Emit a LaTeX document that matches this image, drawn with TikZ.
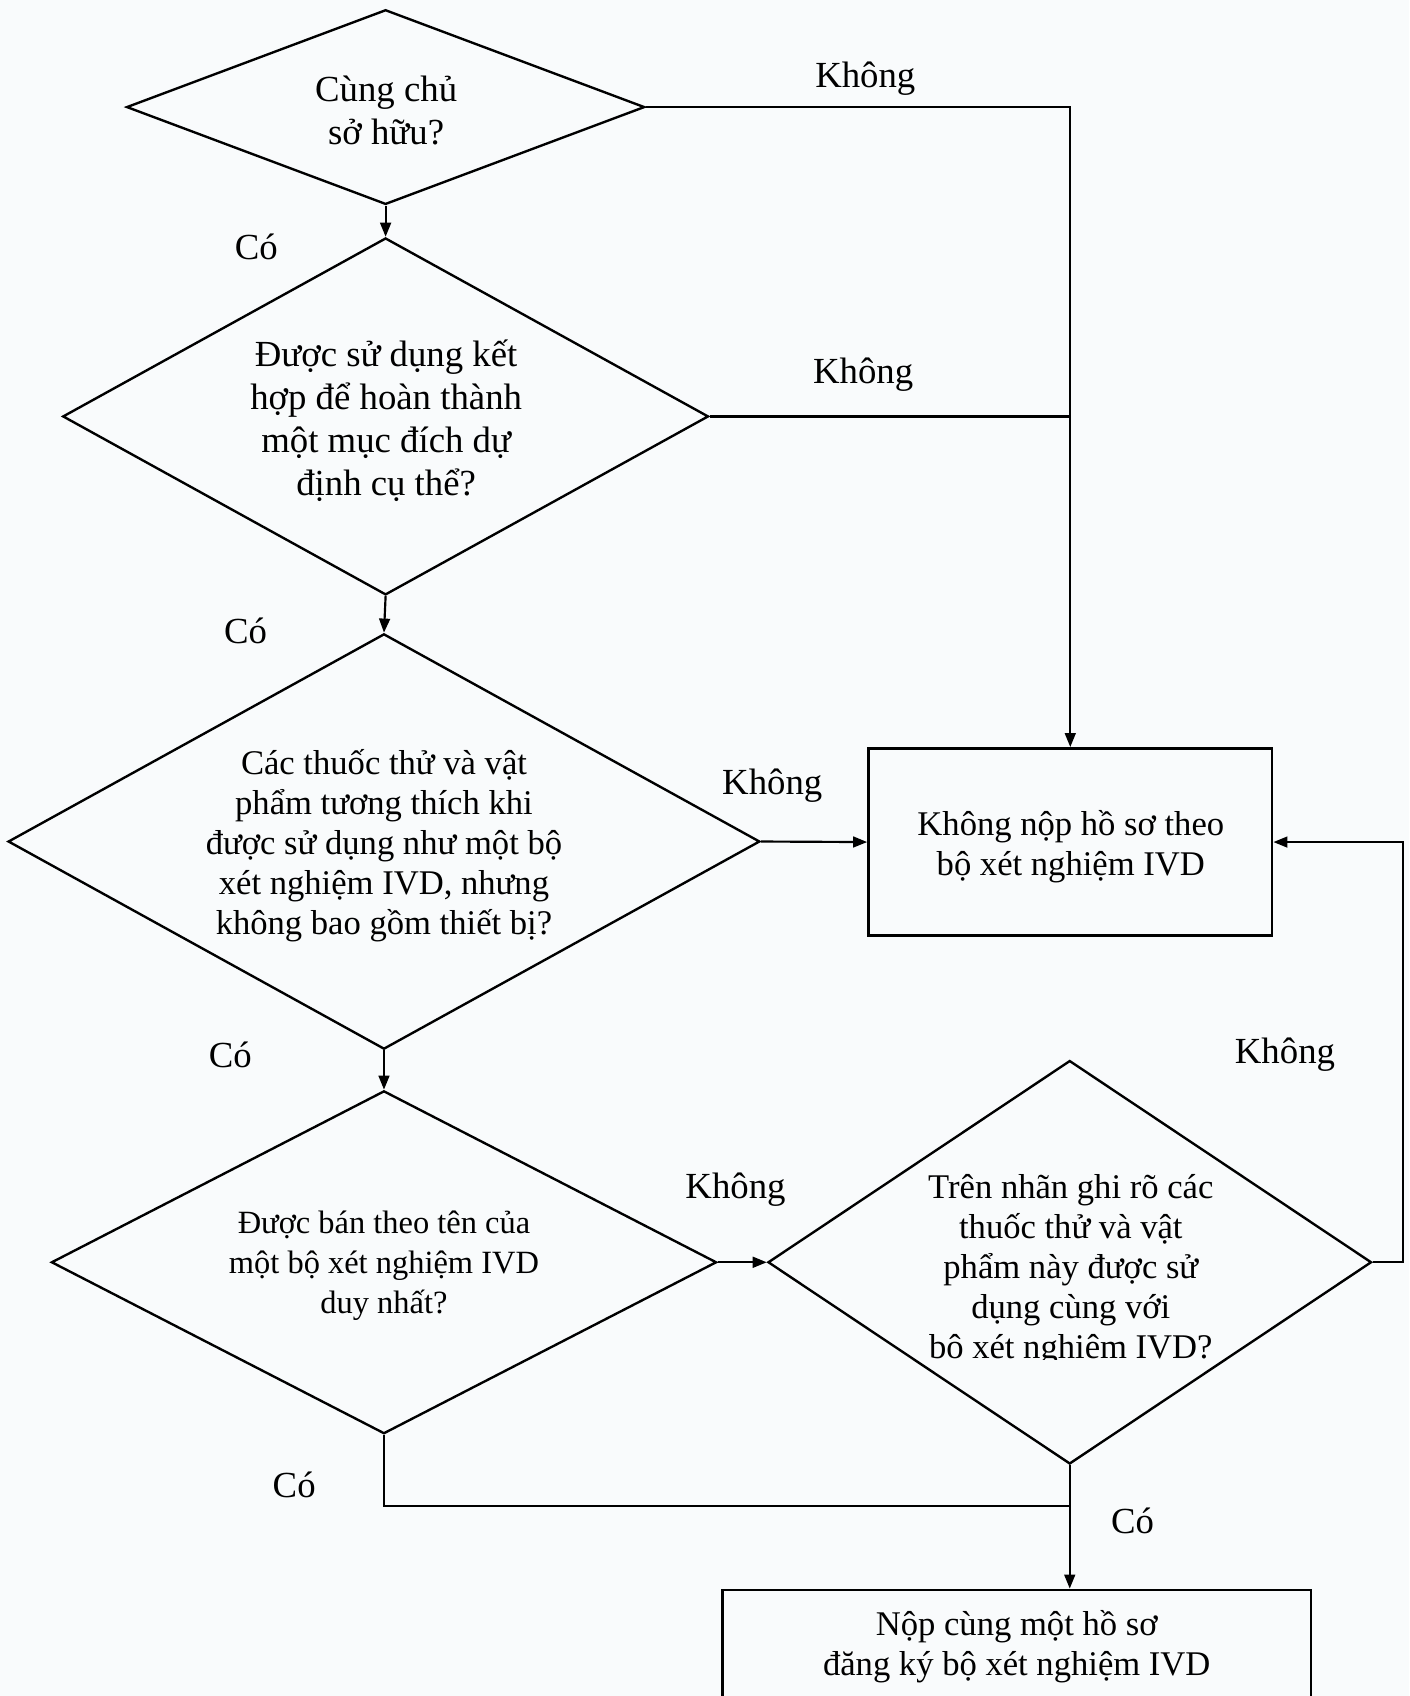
\documentclass[tikz,border=0pt]{standalone}
\usepackage{fontspec}
\setmainfont{Liberation Serif}
\usetikzlibrary{shapes.geometric,arrows.meta}
\definecolor{bg}{RGB}{249,251,252}
\begin{document}
\begin{tikzpicture}[x=0.5pt,y=-0.5pt,
  dia/.style={draw, diamond, line width=1.1pt, inner sep=0pt},
  boxnode/.style={draw, rectangle, line width=1.3pt, inner sep=0pt},
  conn/.style={line width=1pt},
  arr/.style={conn, -{Triangle[length=6.5pt,width=5pt]}},
  tA/.style={align=center, font=\fontsize{17}{20}\selectfont, inner sep=0pt},
  tB/.style={align=center, font=\fontsize{16}{18.5}\selectfont, inner sep=0pt},
  tC/.style={align=center, font=\fontsize{15}{18.5}\selectfont, inner sep=0pt},
  lbl/.style={font=\fontsize{17}{20}\selectfont, inner sep=0pt}]
\useasboundingbox (0,0) rectangle (1303,1568);
\fill[bg] (0,0) rectangle (1303,1568);
\clip (0,0) rectangle (1303,1568);

% decisions
\node[dia, minimum width=239.5pt, minimum height=90pt] (d1) at (356.5,99) {};
\node[tA] (d1t) at (357,102) {Cùng chủ\\sở hữu?};
\node[dia, minimum width=298.5pt, minimum height=165pt] (d2) at (356.5,385) {};
\node[tA] (d2t) at (357,389) {Được sử dụng kết\\hợp để hoàn thành\\một mục đích dự\\định cụ thể?};
\node[dia, minimum width=347.5pt, minimum height=192pt] (d3) at (355,778) {};
\node[tB] (d3t) at (355,782) {Các thuốc thử và vật\\phẩm tương thích khi\\được sử dụng như một bộ\\xét nghiệm IVD, nhưng\\không bao gồm thiết bị?};
\node[dia, minimum width=307.5pt, minimum height=158.5pt] (d4) at (355,1167) {};
\node[tC] (d4t) at (355,1170) {Được bán theo tên của\\một bộ xét nghiệm IVD\\duy nhất?};
\node[dia, minimum width=279pt, minimum height=186.5pt] (d5) at (989,1167) {};
\begin{scope}
\clip (700,980) rectangle (1280,1257);
\node[tB] (d5t) at (990,1174) {Trên nhãn ghi rõ các\\thuốc thử và vật\\phẩm này được sử\\dụng cùng với\\bộ xét nghiệm IVD?};
\end{scope}

% outcomes
\node[boxnode, minimum width=186.5pt, minimum height=86.5pt] (b1) at (989.5,778.5) {};
\node[tB] (b1t) at (990,782.5) {Không nộp hồ sơ theo\\bộ xét nghiệm IVD};
\node[boxnode, minimum width=272pt, minimum height=85pt] (b2) at (940,1555) {};
\node[tB] (b2t) at (940,1522) {Nộp cùng một hồ sơ\\đăng ký bộ xét nghiệm IVD};

% connectors
\coordinate (rt) at (1297,1167);
\coordinate (jn) at (989,1392);
\draw[arr] (d1.south) -- (d2.north);
\draw[arr] (d1.east) -- (d1.east -| b1.north) -- (b1.north);
\draw[conn] (d2.east) -- (d2.east -| b1.north);
\draw[arr] (d2.south) -- (d3.north);
\draw[arr] (d3.east) -- (b1.west);
\draw[arr] (d3.south) -- (d4.north);
\draw[arr] (d4.east) -- (d5.west);
\draw[arr] (d5.east) -- (rt) |- (b1.east);
\draw[conn] (d4.south) |- (jn);
\draw[arr] (d5.south) -- (d5.south |- b2.north);

% labels
\node[lbl] (k1) at (800,73) {Không};
\node[lbl] (k2) at (798,346) {Không};
\node[lbl] (k3) at (714,726) {Không};
\node[lbl] (k4) at (680,1100) {Không};
\node[lbl] (k5) at (1188,975) {Không};
\node[lbl] (c1) at (237,228) {Có};
\node[lbl] (c2) at (227,583) {Có};
\node[lbl] (c3) at (213,975) {Có};
\node[lbl] (c4) at (272,1373) {Có};
\node[lbl] (c5) at (1047,1406) {Có};
\end{tikzpicture}
\end{document}
